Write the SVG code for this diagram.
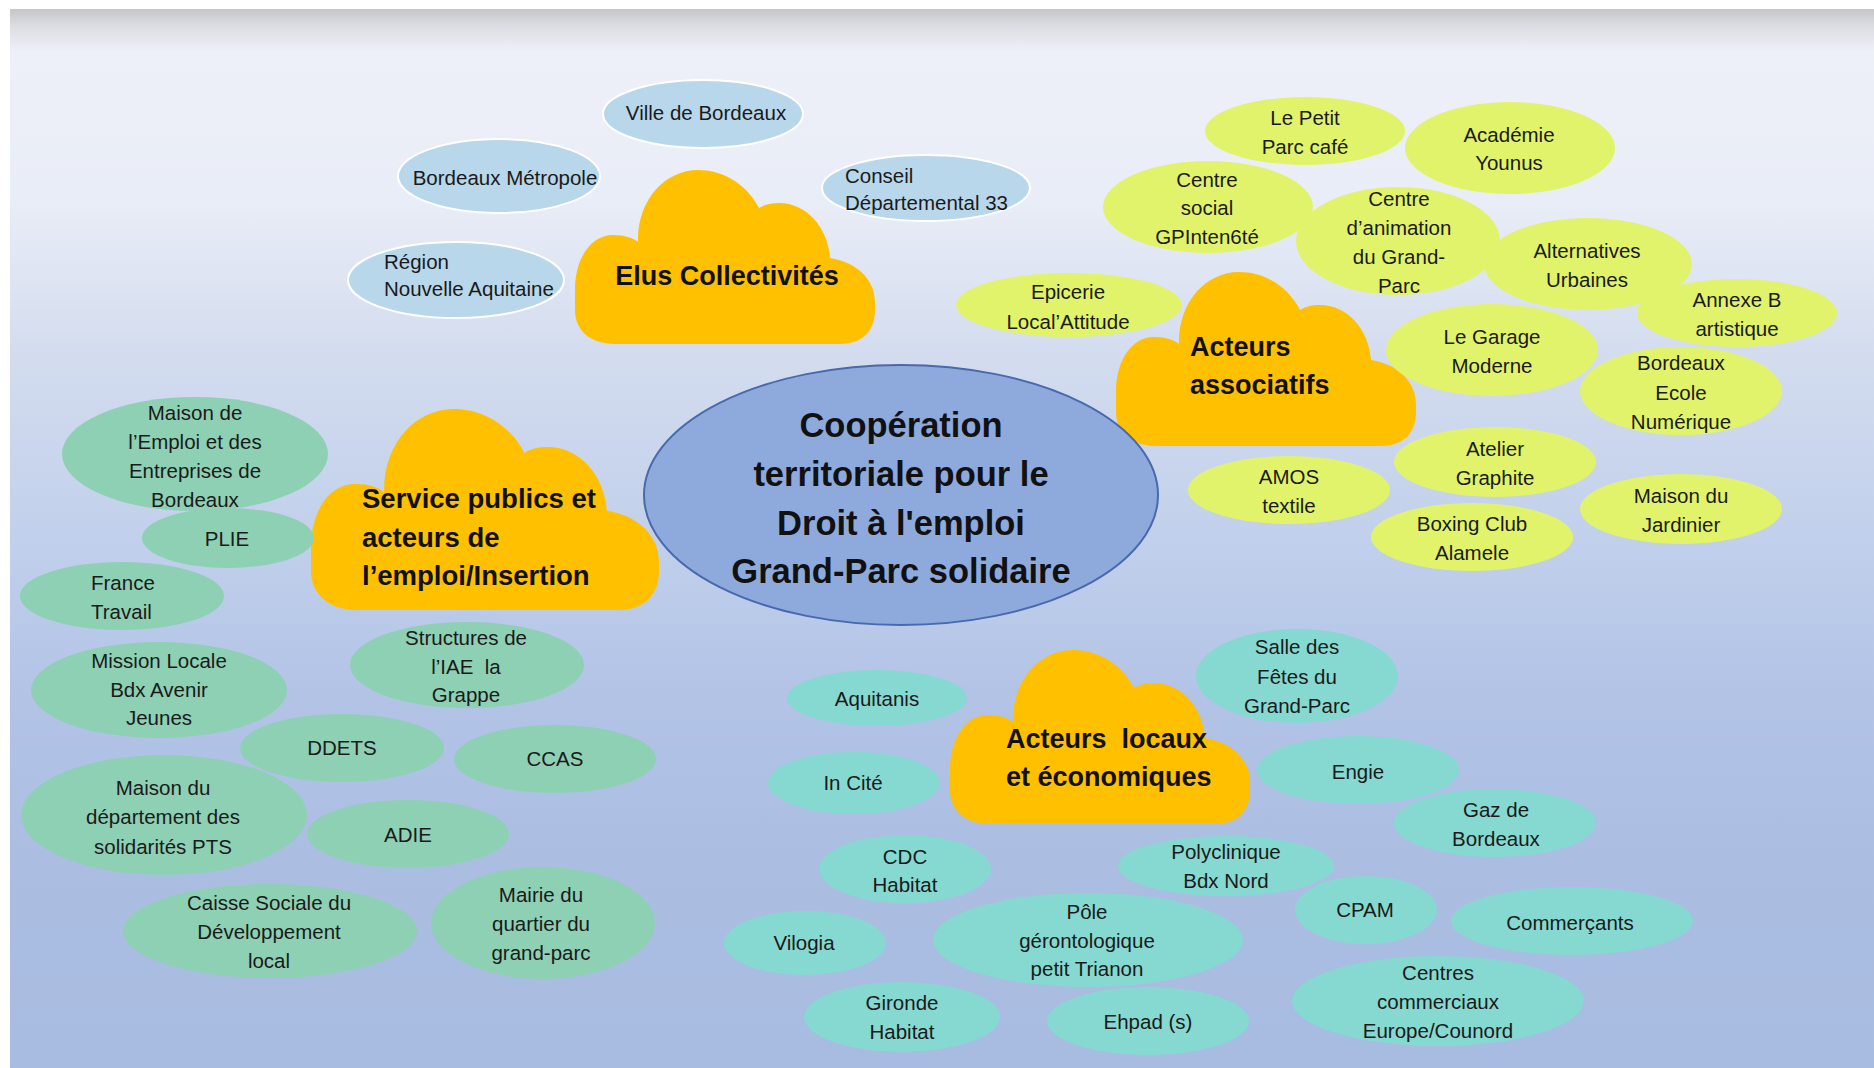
<svg xmlns="http://www.w3.org/2000/svg" width="1874" height="1068" viewBox="0 0 1874 1068">
<defs>
<linearGradient id="bgGrad" gradientUnits="userSpaceOnUse" x1="0" y1="9" x2="0" y2="1068">
<stop offset="0" stop-color="#c6c6ca"/>
<stop offset="0.016" stop-color="#dcdde2"/>
<stop offset="0.04" stop-color="#eef0f8"/>
<stop offset="0.18" stop-color="#e9edf7"/>
<stop offset="0.32" stop-color="#d4ddef"/>
<stop offset="0.51" stop-color="#c0cfeb"/>
<stop offset="0.65" stop-color="#b2c3e6"/>
<stop offset="0.8" stop-color="#abbee2"/>
<stop offset="1" stop-color="#a8bbe0"/>
</linearGradient>
<path id="cloud" d="M 0,120 C 0,88 16,65 38,65 C 50,65 58,68 63,72 C 62,30 90,0 123,0 C 152,0 174,18 184,38 C 190,34 197,33 204,33 C 232,33 253,58 255,88 C 282,92 300,110 300,132 L 300,140 C 300,160 288,174 265,174 L 40,174 C 15,174 0,160 0,140 Z"/>
</defs>
<style>
.lb{fill:#b8d7eb;stroke:#ffffff;stroke-width:2}
.yg{fill:#e1f36b}
.gr{fill:#8ed0b4}
.tq{fill:#85d9d0}
.cl{fill:#ffc000}
.ctr{fill:#8eaadc;stroke:#4769ad;stroke-width:2}
.t{font-family:"Liberation Sans",Arial,sans-serif;font-size:20.5px;fill:#1a1a1a;text-anchor:middle}
.s{text-anchor:start}
.h{font-family:"Liberation Sans",Arial,sans-serif;font-weight:bold;font-size:27px;fill:#111111}
.c{font-family:"Liberation Sans",Arial,sans-serif;font-weight:bold;font-size:34.5px;fill:#111111;text-anchor:middle}
</style>
<rect x="0" y="0" width="1874" height="1068" fill="#ffffff"/>
<rect x="10" y="9" width="1864" height="1059" fill="url(#bgGrad)"/>
<g id="connectors"/>

<g id="cloud-elus">
<use href="#cloud" class="cl" transform="translate(575,170)"/>
<text class="h" x="727" y="285" font-size="26" text-anchor="middle">Elus Collectivités</text>
</g>
<g id="cloud-service">
<use href="#cloud" class="cl" transform="translate(311,409) scale(1.16,1.155)"/>
<text class="h" style="font-size:27.5px"><tspan x="362" y="508">Service publics et</tspan><tspan x="362" y="547">acteurs de</tspan><tspan x="362" y="585">l’emploi/Insertion</tspan></text>
</g>
<g id="cloud-associatifs">
<use href="#cloud" class="cl" transform="translate(1116,272)"/>
<text class="h"><tspan x="1190" y="356">Acteurs</tspan><tspan x="1190" y="394">associatifs</tspan></text>
</g>
<g id="cloud-locaux">
<use href="#cloud" class="cl" transform="translate(950,650)"/>
<text class="h" xml:space="preserve"><tspan x="1006" y="748">Acteurs  locaux</tspan><tspan x="1006" y="786">et économiques</tspan></text>
</g>

<g id="n-ville"><ellipse class="lb" cx="703" cy="114" rx="100" ry="34"/><text class="t" x="706" y="120">Ville de Bordeaux</text></g>
<g id="n-metropole"><ellipse class="lb" cx="499" cy="176" rx="101" ry="37"/><text class="t" x="505" y="185">Bordeaux Métropole</text></g>
<g id="n-conseil"><ellipse class="lb" cx="926" cy="188" rx="104" ry="33"/><text class="t s"><tspan x="845" y="183">Conseil</tspan><tspan x="845" y="210">Départemental 33</tspan></text></g>
<g id="n-region"><ellipse class="lb" cx="456" cy="280" rx="108" ry="38"/><text class="t s"><tspan x="384" y="269">Région</tspan><tspan x="384" y="296">Nouvelle Aquitaine</tspan></text></g>

<g id="n-petitparc"><ellipse class="yg" cx="1305" cy="131" rx="100" ry="34"/><text class="t"><tspan x="1305" y="125">Le Petit</tspan><tspan x="1305" y="154">Parc café</tspan></text></g>
<g id="n-academie"><ellipse class="yg" cx="1510" cy="148" rx="105" ry="46"/><text class="t"><tspan x="1509" y="142">Académie</tspan><tspan x="1509" y="170">Younus</tspan></text></g>
<g id="n-centresocial"><ellipse class="yg" cx="1208" cy="207" rx="105" ry="46"/><text class="t"><tspan x="1207" y="187">Centre</tspan><tspan x="1207" y="215">social</tspan><tspan x="1207" y="244">GPInten6té</tspan></text></g>
<g id="n-centreanim"><ellipse class="yg" cx="1398" cy="241" rx="102" ry="54"/><text class="t"><tspan x="1399" y="206">Centre</tspan><tspan x="1399" y="235">d’animation</tspan><tspan x="1399" y="264">du Grand-</tspan><tspan x="1399" y="293">Parc</tspan></text></g>
<g id="n-alternatives"><ellipse class="yg" cx="1588" cy="264" rx="104" ry="46"/><text class="t"><tspan x="1587" y="258">Alternatives</tspan><tspan x="1587" y="287">Urbaines</tspan></text></g>
<g id="n-annexeb"><ellipse class="yg" cx="1737" cy="313" rx="100" ry="34"/><text class="t"><tspan x="1737" y="307">Annexe B</tspan><tspan x="1737" y="336">artistique</tspan></text></g>
<g id="n-epicerie"><ellipse class="yg" cx="1069" cy="305" rx="113" ry="32"/><text class="t"><tspan x="1068" y="299">Epicerie</tspan><tspan x="1068" y="329">Local’Attitude</tspan></text></g>
<g id="n-garage"><ellipse class="yg" cx="1492" cy="350" rx="106" ry="46"/><text class="t"><tspan x="1492" y="344">Le Garage</tspan><tspan x="1492" y="373">Moderne</tspan></text></g>
<g id="n-ecolenum"><ellipse class="yg" cx="1681" cy="391" rx="101" ry="44"/><text class="t"><tspan x="1681" y="370">Bordeaux</tspan><tspan x="1681" y="400">Ecole</tspan><tspan x="1681" y="429">Numérique</tspan></text></g>
<g id="n-atelier"><ellipse class="yg" cx="1495" cy="462" rx="101" ry="35"/><text class="t"><tspan x="1495" y="456">Atelier</tspan><tspan x="1495" y="485">Graphite</tspan></text></g>
<g id="n-amos"><ellipse class="yg" cx="1289" cy="490" rx="101" ry="34"/><text class="t"><tspan x="1289" y="484">AMOS</tspan><tspan x="1289" y="513">textile</tspan></text></g>
<g id="n-boxing"><ellipse class="yg" cx="1472" cy="537" rx="101" ry="34"/><text class="t"><tspan x="1472" y="531">Boxing Club</tspan><tspan x="1472" y="560">Alamele</tspan></text></g>
<g id="n-jardinier"><ellipse class="yg" cx="1681" cy="509" rx="101" ry="35"/><text class="t"><tspan x="1681" y="503">Maison du</tspan><tspan x="1681" y="532">Jardinier</tspan></text></g>

<g id="n-maisonemploi"><ellipse class="gr" cx="195" cy="454" rx="133" ry="57"/><text class="t"><tspan x="195" y="420">Maison de</tspan><tspan x="195" y="449">l’Emploi et des</tspan><tspan x="195" y="478">Entreprises de</tspan><tspan x="195" y="507">Bordeaux</tspan></text></g>
<g id="n-plie"><ellipse class="gr" cx="228" cy="538" rx="86" ry="30"/><text class="t" x="227" y="546">PLIE</text></g>
<g id="n-francetravail"><ellipse class="gr" cx="122" cy="596" rx="102" ry="34"/><text class="t s"><tspan x="91" y="590">France</tspan><tspan x="91" y="619">Travail</tspan></text></g>
<g id="n-missionlocale"><ellipse class="gr" cx="159" cy="690" rx="128" ry="48"/><text class="t"><tspan x="159" y="668">Mission Locale</tspan><tspan x="159" y="697">Bdx Avenir</tspan><tspan x="159" y="725">Jeunes</tspan></text></g>
<g id="n-iae"><ellipse class="gr" cx="467" cy="665" rx="117" ry="43"/><text class="t" xml:space="preserve"><tspan x="466" y="645">Structures de</tspan><tspan x="466" y="674">l’IAE  la</tspan><tspan x="466" y="702">Grappe</tspan></text></g>
<g id="n-ddets"><ellipse class="gr" cx="342" cy="748" rx="102" ry="34"/><text class="t" x="342" y="755">DDETS</text></g>
<g id="n-ccas"><ellipse class="gr" cx="555" cy="759" rx="101" ry="34"/><text class="t" x="555" y="766">CCAS</text></g>
<g id="n-mds"><ellipse class="gr" cx="164" cy="815" rx="143" ry="60"/><text class="t"><tspan x="163" y="795">Maison du</tspan><tspan x="163" y="824">département des</tspan><tspan x="163" y="854">solidarités PTS</tspan></text></g>
<g id="n-adie"><ellipse class="gr" cx="408" cy="834" rx="101" ry="34"/><text class="t" x="408" y="842">ADIE</text></g>
<g id="n-caisse"><ellipse class="gr" cx="270" cy="931" rx="147" ry="47"/><text class="t"><tspan x="269" y="910">Caisse Sociale du</tspan><tspan x="269" y="939">Développement</tspan><tspan x="269" y="968">local</tspan></text></g>
<g id="n-mairie"><ellipse class="gr" cx="543" cy="923" rx="112" ry="56"/><text class="t"><tspan x="541" y="902">Mairie du</tspan><tspan x="541" y="931">quartier du</tspan><tspan x="541" y="960">grand-parc</tspan></text></g>

<g id="n-salle"><ellipse class="tq" cx="1297" cy="676" rx="101" ry="47"/><text class="t"><tspan x="1297" y="654">Salle des</tspan><tspan x="1297" y="684">Fêtes du</tspan><tspan x="1297" y="713">Grand-Parc</tspan></text></g>
<g id="n-aquitanis"><ellipse class="tq" cx="877" cy="698" rx="90" ry="28"/><text class="t" x="877" y="706">Aquitanis</text></g>
<g id="n-incite"><ellipse class="tq" cx="854" cy="783" rx="86" ry="31"/><text class="t" x="853" y="790">In Cité</text></g>
<g id="n-engie"><ellipse class="tq" cx="1358" cy="770" rx="101" ry="34"/><text class="t" x="1358" y="779">Engie</text></g>
<g id="n-gaz"><ellipse class="tq" cx="1495" cy="823" rx="101" ry="34"/><text class="t"><tspan x="1496" y="817">Gaz de</tspan><tspan x="1496" y="846">Bordeaux</tspan></text></g>
<g id="n-cdc"><ellipse class="tq" cx="905" cy="869" rx="86" ry="34"/><text class="t"><tspan x="905" y="864">CDC</tspan><tspan x="905" y="892">Habitat</tspan></text></g>
<g id="n-polyclinique"><ellipse class="tq" cx="1226" cy="866" rx="108" ry="30"/><text class="t"><tspan x="1226" y="859">Polyclinique</tspan><tspan x="1226" y="888">Bdx Nord</tspan></text></g>
<g id="n-pole"><ellipse class="tq" cx="1088" cy="940" rx="155" ry="47"/><text class="t"><tspan x="1087" y="919">Pôle</tspan><tspan x="1087" y="948">gérontologique</tspan><tspan x="1087" y="976">petit Trianon</tspan></text></g>
<g id="n-cpam"><ellipse class="tq" cx="1366" cy="910" rx="71" ry="34"/><text class="t" x="1365" y="917">CPAM</text></g>
<g id="n-commercants"><ellipse class="tq" cx="1572" cy="921" rx="121" ry="34"/><text class="t" x="1570" y="930">Commerçants</text></g>
<g id="n-vilogia"><ellipse class="tq" cx="805" cy="943" rx="81" ry="32"/><text class="t" x="804" y="950">Vilogia</text></g>
<g id="n-gironde"><ellipse class="tq" cx="902" cy="1017" rx="98" ry="35"/><text class="t"><tspan x="902" y="1010">Gironde</tspan><tspan x="902" y="1039">Habitat</tspan></text></g>
<g id="n-ehpad"><ellipse class="tq" cx="1148" cy="1021" rx="101" ry="34"/><text class="t" x="1148" y="1029">Ehpad (s)</text></g>
<g id="n-centrescom"><ellipse class="tq" cx="1438" cy="1001" rx="146" ry="45"/><text class="t"><tspan x="1438" y="980">Centres</tspan><tspan x="1438" y="1009">commerciaux</tspan><tspan x="1438" y="1038">Europe/Counord</tspan></text></g>

<g id="n-central"><ellipse class="ctr" cx="901" cy="495" rx="257" ry="130"/><text class="c"><tspan x="901" y="437">Coopération</tspan><tspan x="901" y="486">territoriale pour le</tspan><tspan x="901" y="535">Droit à l'emploi</tspan><tspan x="901" y="583">Grand-Parc solidaire</tspan></text></g>
</svg>
